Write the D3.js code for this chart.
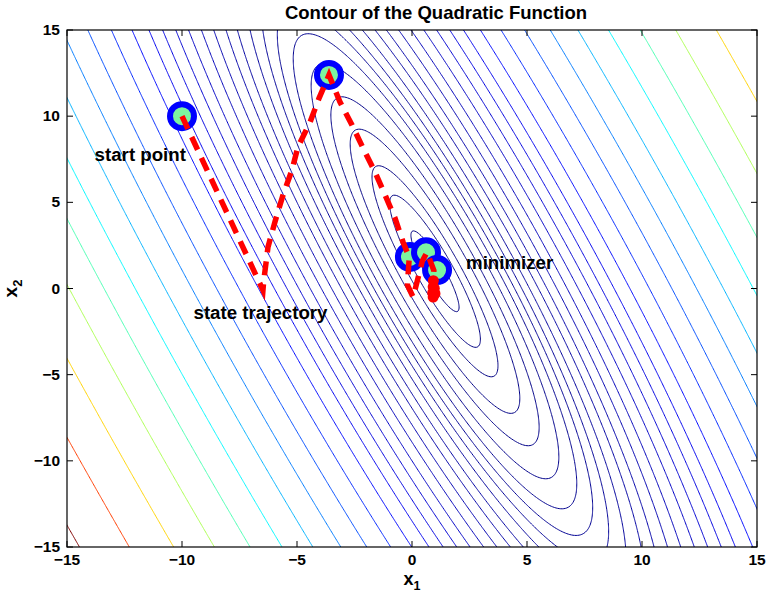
<!DOCTYPE html>
<html><head><meta charset="utf-8">
<script src="https://cdn.jsdelivr.net/npm/d3@7"></script>
<style>
html,body{margin:0;padding:0;background:#fff;}
text{font-family:"Liberation Sans",Arial,Helvetica,sans-serif;font-weight:bold;fill:#000;}
</style></head>
<body>
<svg id="chart" width="767" height="593"></svg>
<script>
// ---- data ----
const titleText = "Contour of the Quadratic Function";
const xTicks = [-15, -10, -5, 0, 5, 10, 15];
const yTicks = [-15, -10, -5, 0, 5, 10, 15];
// quadratic f(x) = (x-c)' Q (x-c)
const Q = [[5, 2], [2, 1]];
const center = [1, 1];
// contour levels
const levels = [1.1, 3.9, 7.5, 13.6, 20.5, 29, 38, 47, 57, 69, 84, 100, 120, 143, 170, 200, 234, 273,
  326, 398, 490, 602, 737, 903, 1094, 1330, 1629, 1990, 2440];
// state trajectory
const trajX = [-10, -6.48, -6.45, -6.26, -5.96, -5.61, -5.22, -4.96, -4.43, -4.04, -3.61,
  -3.13, -2.61, -2.13, -1.61, -1.17, -0.74, -0.39, -0.12, -0.2, 0.05, 0.45, 0.65, 0.95, 0.9];
const trajY = [10, -0.1, 0.4, 2.41, 3.86, 5.42, 6.87, 8.21, 9.66, 11.05, 12.39,
  10.82, 9.49, 8.15, 6.76, 5.42, 4.09, 2.70, 1.8, 0.2, -0.5, 1.6, 2.1, 1.05, -0.3];
// markers along trajectory
const markX = [-10, -3.61, -0.09, 0.61, 1.09];
const markY = [10, 12.39, 1.83, 2.1, 1.07];
// final states cluster
const endX = [0.93, 0.92, 0.9, 0.92, 1.0, 0.97];
const endY = [0.45, 0.1, -0.25, -0.5, -0.3, 0.0];
// annotations
const notes = [
  {text: "start point", x: -13.8, y: 7.4},
  {text: "state trajectory", x: -9.5, y: -1.75},
  {text: "minimizer", x: 2.35, y: 1.15}
];

// ---- layout ----
const svg = d3.select("#chart");
const L = 67, R = 757, T = 30, B = 547;
const x = d3.scaleLinear().domain([-15, 15]).range([L, R]);
const y = d3.scaleLinear().domain([-15, 15]).range([B, T]);

function jet(t) {
  const c = v => Math.max(0, Math.min(1, v));
  const r = c(1.5 - Math.abs(4 * t - 3)), g = c(1.5 - Math.abs(4 * t - 2)), b = c(1.5 - Math.abs(4 * t - 1));
  return d3.rgb(r * 255, g * 255, b * 255).toString();
}

// grid
const n = 481, g0 = -16, g1 = 16, step = (g1 - g0) / (n - 1);
const vals = new Float64Array(n * n);
for (let j = 0; j < n; j++) {
  const yy = g1 - j * step;
  for (let i = 0; i < n; i++) {
    const xx = g0 + i * step;
    const dx = xx - center[0], dy = yy - center[1];
    vals[j * n + i] = Q[0][0] * dx * dx + 2 * Q[0][1] * dx * dy + Q[1][1] * dy * dy;
  }
}
const contours = d3.contours().size([n, n]).thresholds(levels)(vals);
const proj = d3.geoTransform({
  point: function(px, py) {
    this.stream.point(x(g0 + (px - 0.5) * step), y(g1 - (py - 0.5) * step));
  }
});
const path = d3.geoPath(proj);
const lmin = levels[0], lmax = levels[levels.length - 1];

svg.append("defs").append("clipPath").attr("id", "clip")
  .append("rect").attr("x", L).attr("y", T).attr("width", R - L).attr("height", B - T);

svg.append("g").attr("clip-path", "url(#clip)")
  .selectAll("path").data(contours).join("path")
  .attr("d", path)
  .attr("fill", "none")
  .attr("stroke", d => jet((d.value - lmin) / (lmax - lmin)))
  .attr("stroke-width", 1);

// axes box and ticks
svg.append("rect").attr("x", L).attr("y", T).attr("width", R - L).attr("height", B - T)
  .attr("fill", "none").attr("stroke", "#000").attr("stroke-width", 1.2);
const tl = 6;
const tg = svg.append("g").attr("stroke", "#000").attr("stroke-width", 1);
xTicks.forEach(v => {
  tg.append("line").attr("x1", x(v)).attr("x2", x(v)).attr("y1", B).attr("y2", B - tl);
  tg.append("line").attr("x1", x(v)).attr("x2", x(v)).attr("y1", T).attr("y2", T + tl);
});
yTicks.forEach(v => {
  tg.append("line").attr("y1", y(v)).attr("y2", y(v)).attr("x1", L).attr("x2", L + tl);
  tg.append("line").attr("y1", y(v)).attr("y2", y(v)).attr("x1", R).attr("x2", R - tl);
});
const fmt = v => (v < 0 ? "\u2212" + Math.abs(v) : String(v));
svg.append("g").selectAll("text").data(xTicks).join("text")
  .attr("x", d => x(d)).attr("y", B + 18).attr("text-anchor", "middle")
  .style("font-size", "15.5px").text(fmt);
svg.append("g").selectAll("text").data(yTicks).join("text")
  .attr("x", L - 7).attr("y", d => y(d) + 5).attr("text-anchor", "end")
  .style("font-size", "15.5px").text(fmt);

// title & axis labels
svg.append("text").attr("x", 436).attr("y", 19).attr("text-anchor", "middle")
  .style("font-size", "18.5px").text(titleText);
const xl = svg.append("text").attr("x", (L + R) / 2).attr("y", 584.5).attr("text-anchor", "middle").style("font-size", "18px");
xl.append("tspan").text("x");
xl.append("tspan").attr("dy", 5).style("font-size", "12.5px").text("1");
const yl = svg.append("text").attr("transform", `translate(17,${(T + B) / 2}) rotate(-90)`).attr("text-anchor", "middle").style("font-size", "19px");
yl.append("tspan").text("x");
yl.append("tspan").attr("dy", 5).style("font-size", "13px").text("2");

// markers
svg.append("g").selectAll("circle").data(markX).join("circle")
  .attr("cx", d => x(d)).attr("cy", (d, i) => y(markY[i])).attr("r", 12)
  .attr("fill", "#7df5a0").attr("stroke", "#0000ff").attr("stroke-width", 6);

// trajectory
const line = d3.line().x(d => x(d[0])).y(d => y(d[1]));
svg.append("path").datum(trajX.map((v, i) => [v, trajY[i]]))
  .attr("d", line).attr("fill", "none").attr("stroke", "#ff0000")
  .attr("stroke-width", 5.5).attr("stroke-dasharray", "14,9");
svg.append("g").selectAll("circle.end").data(endX).join("circle")
  .attr("cx", d => x(d)).attr("cy", (d, i) => y(endY[i])).attr("r", 5.5).attr("fill", "#ff0000");

// annotations
svg.append("g").selectAll("text.note").data(notes).join("text")
  .attr("x", d => x(d.x)).attr("y", d => y(d.y))
  .style("font-size", "18.7px").text(d => d.text);
</script>
</body></html>
